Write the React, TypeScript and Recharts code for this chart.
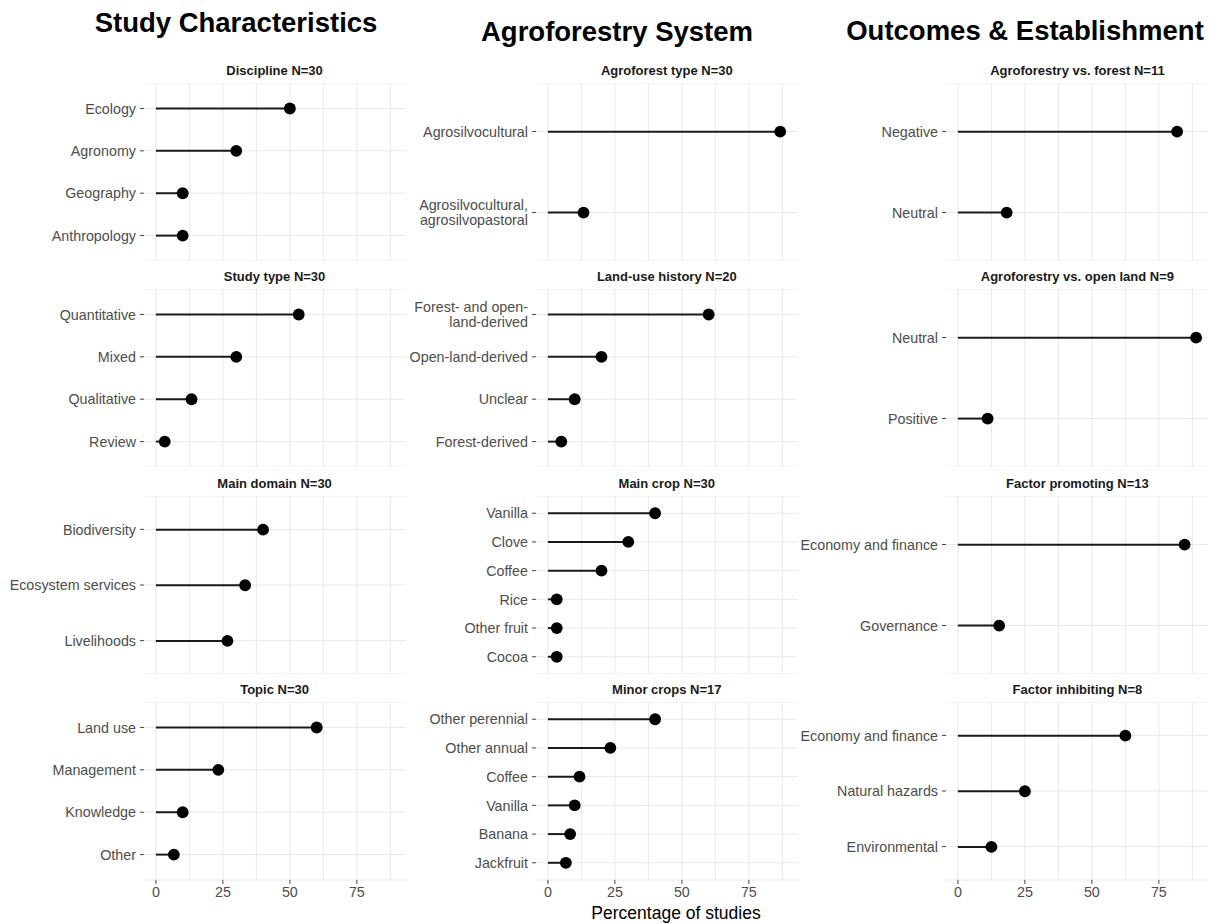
import React from 'react';
import { ComposedChart, Bar, XAxis, YAxis, CartesianGrid } from 'recharts';

const FONT = '"Liberation Sans", Arial, Helvetica, sans-serif';

// ---------- data ----------
const disciplineCats = ['Ecology', 'Agronomy', 'Geography', 'Anthropology'];
const disciplineVals = [50, 30, 10, 10];

const studyTypeCats = ['Quantitative', 'Mixed', 'Qualitative', 'Review'];
const studyTypeVals = [53.3, 30, 13.3, 3.3];

const mainDomainCats = ['Biodiversity', 'Ecosystem services', 'Livelihoods'];
const mainDomainVals = [40, 33.3, 26.7];

const topicCats = ['Land use', 'Management', 'Knowledge', 'Other'];
const topicVals = [60, 23.3, 10, 6.7];

const agroTypeCats = ['Agrosilvocultural', 'Agrosilvocultural,\nagrosilvopastoral'];
const agroTypeVals = [86.7, 13.3];

const landUseCats = ['Forest- and open-\nland-derived', 'Open-land-derived', 'Unclear', 'Forest-derived'];
const landUseVals = [60, 20, 10, 5];

const mainCropCats = ['Vanilla', 'Clove', 'Coffee', 'Rice', 'Other fruit', 'Cocoa'];
const mainCropVals = [40, 30, 20, 3.3, 3.3, 3.3];

const minorCropCats = ['Other perennial', 'Other annual', 'Coffee', 'Vanilla', 'Banana', 'Jackfruit'];
const minorCropVals = [40, 23.3, 11.8, 10, 8.3, 6.7];

const vsForestCats = ['Negative', 'Neutral'];
const vsForestVals = [81.8, 18.2];

const vsOpenCats = ['Neutral', 'Positive'];
const vsOpenVals = [88.9, 11.1];

const promotingCats = ['Economy and finance', 'Governance'];
const promotingVals = [84.6, 15.4];

const inhibitingCats = ['Economy and finance', 'Natural hazards', 'Environmental'];
const inhibitingVals = [62.5, 25, 12.5];

const columnTitles = ['Study Characteristics', 'Agroforestry System', 'Outcomes & Establishment'];
const xTicks = [0, 25, 50, 75];
const gridValues = [0, 12.5, 25, 37.5, 50, 62.5, 75, 87.5];
const xLabel = 'Percentage of studies';

type Panel = { title: string; cats: string[]; vals: number[]; col: number; row: number };

const panels: Panel[] = [
  { title: 'Discipline N=30', cats: disciplineCats, vals: disciplineVals, col: 0, row: 0 },
  { title: 'Study type N=30', cats: studyTypeCats, vals: studyTypeVals, col: 0, row: 1 },
  { title: 'Main domain N=30', cats: mainDomainCats, vals: mainDomainVals, col: 0, row: 2 },
  { title: 'Topic N=30', cats: topicCats, vals: topicVals, col: 0, row: 3 },
  { title: 'Agroforest type N=30', cats: agroTypeCats, vals: agroTypeVals, col: 1, row: 0 },
  { title: 'Land-use history N=20', cats: landUseCats, vals: landUseVals, col: 1, row: 1 },
  { title: 'Main crop N=30', cats: mainCropCats, vals: mainCropVals, col: 1, row: 2 },
  { title: 'Minor crops N=17', cats: minorCropCats, vals: minorCropVals, col: 1, row: 3 },
  { title: 'Agroforestry vs. forest N=11', cats: vsForestCats, vals: vsForestVals, col: 2, row: 0 },
  { title: 'Agroforestry vs. open land N=9', cats: vsOpenCats, vals: vsOpenVals, col: 2, row: 1 },
  { title: 'Factor promoting N=13', cats: promotingCats, vals: promotingVals, col: 2, row: 2 },
  { title: 'Factor inhibiting N=8', cats: inhibitingCats, vals: inhibitingVals, col: 2, row: 3 },
];

// ---------- layout ----------
const X_MIN = -4.44;
const X_MAX = 93.33;
const COL_LEFT = [143.6, 535.8, 946.4];
const ROW_TOP = [82.8, 289, 495.8, 701.8];
const PW = 262;
const PH = 178;
const YW = 170;
const XH = 40;
const TITLE_X = [236, 617, 1025];
const TITLE_Y = [23, 32, 31];

const YTick = (props: any) => {
  const { x, y, payload } = props;
  const lines = String(payload.value).split('\n');
  const lh = 15;
  const start = -((lines.length - 1) * lh) / 2;
  return (
    <text x={x} y={y} textAnchor="end" fill="#4d4d4d" fontSize={14.3} fontFamily={FONT}>
      {lines.map((l, i) => (
        <tspan key={i} x={x} y={y + start + i * lh} dy="0.36em">
          {l}
        </tspan>
      ))}
    </text>
  );
};

const Lollipop = (props: any) => {
  const { x, y, width, height } = props;
  const cy = y + height / 2;
  return (
    <g>
      <line x1={x} y1={cy} x2={x + width} y2={cy} stroke="#1a1a1a" strokeWidth={2} />
      <circle cx={x + width} cy={cy} r={5.9} fill="#000" />
    </g>
  );
};

const PanelChart = ({ p }: { p: Panel }) => {
  const data = p.cats.map((c, i) => ({ name: c, value: p.vals[i] }));
  const bottom = p.row === 3;
  const n = p.cats.length;
  const pad = (0.1 * PH) / (n + 0.2);
  const left = COL_LEFT[p.col];
  const top = ROW_TOP[p.row];
  return (
    <>
      <div
        style={{
          position: 'absolute',
          left,
          top: top - 20,
          width: PW,
          height: 16,
          lineHeight: '16px',
          textAlign: 'center',
          fontFamily: FONT,
          fontWeight: 'bold',
          fontSize: 13,
          color: '#1a1a1a',
          whiteSpace: 'nowrap',
        }}
      >
        {p.title}
      </div>
      <div style={{ position: 'absolute', left: left - YW, top }}>
        <ComposedChart
          layout="vertical"
          width={YW + PW}
          height={PH + (bottom ? XH : 0)}
          data={data}
          margin={{ top: 0, right: 0, bottom: 0, left: 0 }}
          style={{ fontFamily: FONT }}
        >
          <CartesianGrid stroke="#e9e9e9" strokeWidth={1} verticalValues={gridValues} />
          <XAxis
            type="number"
            domain={[X_MIN, X_MAX]}
            ticks={xTicks}
            hide={!bottom}
            height={XH}
            tickSize={4}
            tickMargin={3}
            axisLine={false}
            tickLine={{ stroke: '#444' }}
            tick={{ fill: '#4d4d4d', fontSize: 14.3, fontFamily: FONT }}
            allowDataOverflow
          />
          <YAxis
            type="category"
            dataKey="name"
            width={YW}
            tickSize={4}
            tickMargin={4}
            axisLine={false}
            tickLine={{ stroke: '#444' }}
            tick={<YTick />}
            interval={0}
            padding={{ top: pad, bottom: pad }}
          />
          <Bar dataKey="value" shape={<Lollipop />} isAnimationActive={false} />
        </ComposedChart>
      </div>
    </>
  );
};

export default function App() {
  return (
    <div
      style={{
        position: 'absolute',
        left: 0,
        top: 0,
        width: 1209,
        height: 924,
        background: '#fff',
        fontFamily: FONT,
        overflow: 'hidden',
      }}
    >
      {panels.map((p) => (
        <PanelChart key={p.title} p={p} />
      ))}
      {columnTitles.map((t, i) => (
        <div
          key={t}
          style={{
            position: 'absolute',
            left: TITLE_X[i] - 250,
            width: 500,
            top: TITLE_Y[i] - 16,
            height: 32,
            lineHeight: '32px',
            textAlign: 'center',
            fontSize: 27.5,
            fontWeight: 'bold',
            color: '#000',
            whiteSpace: 'nowrap',
          }}
        >
          {t}
        </div>
      ))}
      <div
        style={{
          position: 'absolute',
          left: 676 - 150,
          width: 300,
          top: 903,
          height: 20,
          lineHeight: '20px',
          textAlign: 'center',
          fontSize: 17.5,
          color: '#000',
        }}
      >
        {xLabel}
      </div>
    </div>
  );
}
